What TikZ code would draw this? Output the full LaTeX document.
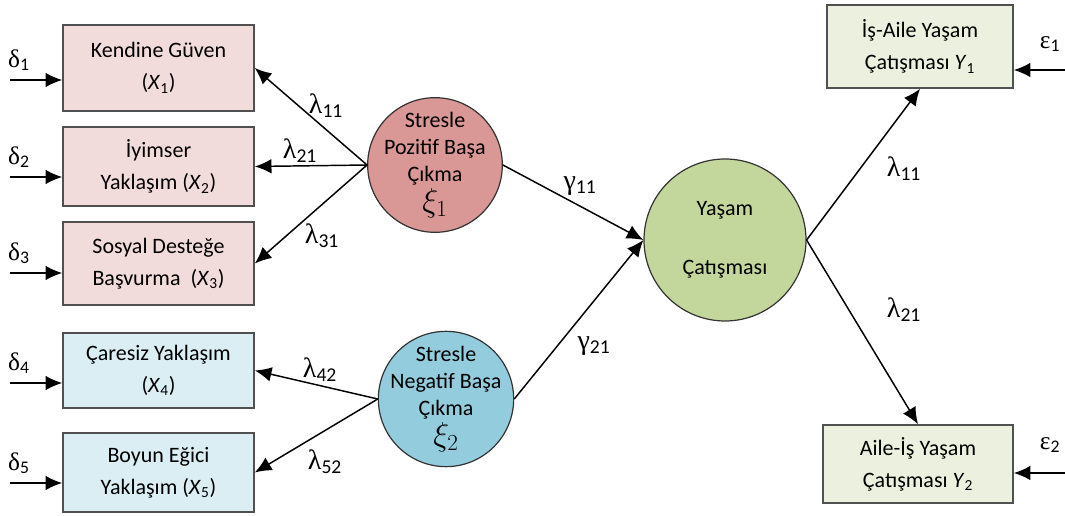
\documentclass[tikz,border=0pt]{standalone}
\usepackage{fontspec}
\setmainfont{Carlito}
\newfontfamily\grk{Liberation Serif}
\usetikzlibrary{arrows.meta}
\definecolor{pinkbox}{HTML}{F2DCDB}
\definecolor{bluebox}{HTML}{DBEEF4}
\definecolor{greenbox}{HTML}{EBF1DE}
\definecolor{pinkcirc}{HTML}{D99795}
\definecolor{bluecirc}{HTML}{93CDDD}
\definecolor{greencirc}{HTML}{C3D69B}
\definecolor{boxline}{HTML}{505050}
\newcommand{\gsub}[2]{{\grk #1}\textsubscript{#2}}
\newcommand{\bigxi}[1]{{\fontsize{23}{23}\selectfont$\xi_{#1}$}}
\begin{document}
\begin{tikzpicture}[x=.75pt, y=-.75pt, >={Latex[length=12.5pt,width=11pt]},
    every node/.style={font=\fontsize{16.5}{24}\selectfont},
    obs/.style={draw=boxline, line width=1.2pt, minimum width=143.25pt, align=center, inner sep=0pt},
    lat/.style={circle, draw=black!80, line width=.9pt, inner sep=0pt},
    lattext/.style={align=center, font=\fontsize{16.5}{20.5}\selectfont},
    link/.style={->, line width=1.1pt},
    coef/.style={font=\fontsize{21}{24}\selectfont},
    err/.style={font=\fontsize{19}{22}\selectfont}]
\useasboundingbox (0,0) rectangle (1065,516);
% observed x variables
\node[obs, fill=pinkbox, minimum height=64.5pt] (x1) at (158.5,68) {Kendine Güven\\(\textit{X}\textsubscript{1})};
\node[obs, fill=pinkbox, minimum height=59.25pt] (x2) at (158.5,166.5) {İyimser\\Yaklaşım (\textit{X}\textsubscript{2})};
\node[obs, fill=pinkbox, minimum height=62.25pt] (x3) at (158.5,263.5) {Sosyal Desteğe\\Başvurma \ (\textit{X}\textsubscript{3})};
\node[obs, fill=bluebox, minimum height=56.25pt] (x4) at (158.5,370.5) {Çaresiz Yaklaşım\\(\textit{X}\textsubscript{4})};
\node[obs, fill=bluebox, minimum height=59.25pt] (x5) at (158.5,472.5) {Boyun Eğici\\Yaklaşım (\textit{X}\textsubscript{5})};
% observed y variables
\node[obs, fill=greenbox, minimum width=139.5pt, minimum height=62.25pt] (y1) at (920,46.5) {İş-Aile Yaşam\\Çatışması \textit{Y}\textsubscript{1}};
\node[obs, fill=greenbox, minimum width=142.5pt, minimum height=58.5pt] (y2) at (918,464) {Aile-İş Yaşam\\Çatışması \textit{Y}\textsubscript{2}};
% latent variables
\node[lat, fill=pinkcirc, minimum size=101pt] (k1) at (435,165) {};
\node[lattext] at (k1) {Stresle\\Pozitif Başa\\Çıkma\\[2pt]\bigxi{1}};
\node[lat, fill=bluecirc, minimum size=101.5pt] (k2) at (446,399) {};
\node[lattext] at (k2) {Stresle\\Negatif Başa\\Çıkma\\[2pt]\bigxi{2}};
\node[lat, fill=greencirc, minimum size=121.5pt] (eta) at (725,240) {};
\node[lattext] at (eta) {Yaşam\\[24pt]Çatışması};
% error terms
\foreach \i/\y in {1/80, 2/177, 3/273, 4/383, 5/483}
{
    \coordinate (d\i) at (10,\y);
    \draw[link] (d\i) -- (d\i -| x\i.west);
    \node[err] at (19,\y-20) {\gsub{δ}{\i}};
}
\coordinate (e1) at (1065,70);
\coordinate (e2) at (1065,473);
\draw[link] (e1) -- (e1 -| y1.east);
\draw[link] (e2) -- (e2 -| y2.east);
\node[err] at (1050,44) {\gsub{ε}{1}};
\node[err] at (1050,445) {\gsub{ε}{2}};
% loadings
\draw[link] (k1.west) -- (x1.east);
\draw[link] (k1.west) -- (x2.east);
\draw[link] (k1.west) -- (x3.east);
\draw[link] (k2.west) -- (x4.east);
\draw[link] (k2.west) -- (x5.east);
\draw[link] (k1.east) -- (eta.west);
\draw[link] (k2.east) -- (eta.west);
\draw[link] (eta.east) -- (y1.south);
\draw[link] (eta.east) -- (y2.north);
\node[coef] at (326,106) {\gsub{λ}{11}};
\node[coef] at (300,151) {\gsub{λ}{21}};
\node[coef] at (322,236) {\gsub{λ}{31}};
\node[coef] at (320,370) {\gsub{λ}{42}};
\node[coef] at (325,462) {\gsub{λ}{52}};
\node[coef] at (580,186) {\gsub{γ}{11}};
\node[coef] at (594,346) {\gsub{γ}{21}};
\node[coef] at (904,169) {\gsub{λ}{11}};
\node[coef] at (904,310) {\gsub{λ}{21}};
\end{tikzpicture}
\end{document}
